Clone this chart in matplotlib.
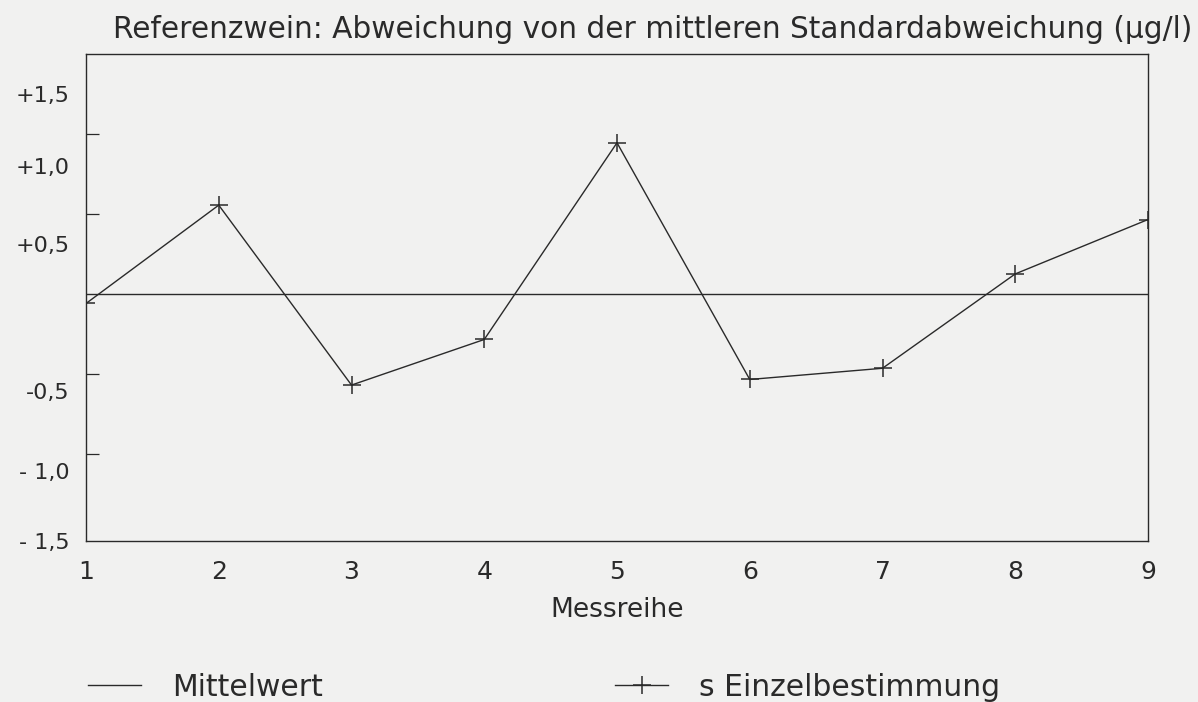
import numpy as np
import matplotlib.pyplot as plt
from matplotlib.lines import Line2D

# Messreihen und Abweichung von der mittleren Standardabweichung (µg/l)
messreihe = [1, 2, 3, 4, 5, 6, 7, 8, 9]
abweichung = [-0.06, 0.555, -0.57, -0.285, 0.945, -0.535, -0.465, 0.125, 0.465]
mittelwert = 0.0

# Achsenbeschriftung wie im Original (leicht unter den Teilstrichen gesetzt)
ytick_pos = [1.25, 0.80, 0.315, -0.61, -1.11, -1.545]
ytick_labels = ['+1,5', '+1,0', '+0,5', '-0,5', '- 1,0', '- 1,5']
ymarks = [-1.0, -0.5, 0.5, 1.0]

bg = '#f1f1f0'
ink = '#2a2a2a'
plt.rcParams['font.family'] = ['DejaVu Sans']

fig = plt.figure(figsize=(11.98, 7.02), dpi=100, facecolor=bg)
ax = fig.add_axes([86 / 1198, 1 - 541 / 702, (1148 - 86) / 1198, (541 - 54) / 702])
ax.set_facecolor(bg)

ax.axhline(mittelwert, color=ink, lw=1.0)
ax.plot(messreihe, abweichung, color=ink, lw=1.0, marker='+', markersize=13,
        markeredgewidth=1.1)

ax.set_xlim(1, 9)
ax.set_ylim(-1.5, 1.5)

ax.set_xticks(messreihe)
ax.set_xticklabels([str(m) for m in messreihe], fontsize=18, color=ink)
ax.set_xticks(messreihe[1:-1], minor=True)
ax.set_yticks(ytick_pos)
ax.set_yticklabels(ytick_labels, fontsize=16, color=ink)
ax.set_yticks(ymarks, minor=True)
ax.tick_params(axis='both', which='major', length=0)
ax.tick_params(axis='x', which='major', pad=14)
ax.tick_params(axis='y', which='major', pad=12)
ax.tick_params(axis='x', which='minor', direction='in', length=7.5, width=0.9, color=ink)
ax.tick_params(axis='y', which='minor', direction='in', length=9.5, width=0.9, color=ink)
for s in ax.spines.values():
    s.set_color(ink)
    s.set_linewidth(1.0)

ax.set_xlabel('Messreihe', fontsize=19, color=ink, labelpad=9)
fig.text(113 / 1198, 1 - 29 / 702, 'Referenzwein: Abweichung von der mittleren Standardabweichung (µg/l)',
         fontsize=21.3, color=ink, va='center', ha='left')

handles = [Line2D([], [], color=ink, lw=1.0),
           Line2D([], [], color=ink, lw=1.0, marker='+', markersize=13, markeredgewidth=1.1)]
fig.legend(handles, ['Mittelwert', 's Einzelbestimmung'], loc='center left',
           bbox_to_anchor=(88 / 1198, 1 - 687 / 702), ncol=2, frameon=False,
           fontsize=21.5, handlelength=1.77, handletextpad=1.04, columnspacing=9.8,
           borderpad=0, borderaxespad=0, labelcolor=ink)

fig.savefig('out.png', dpi=100, facecolor=bg)
